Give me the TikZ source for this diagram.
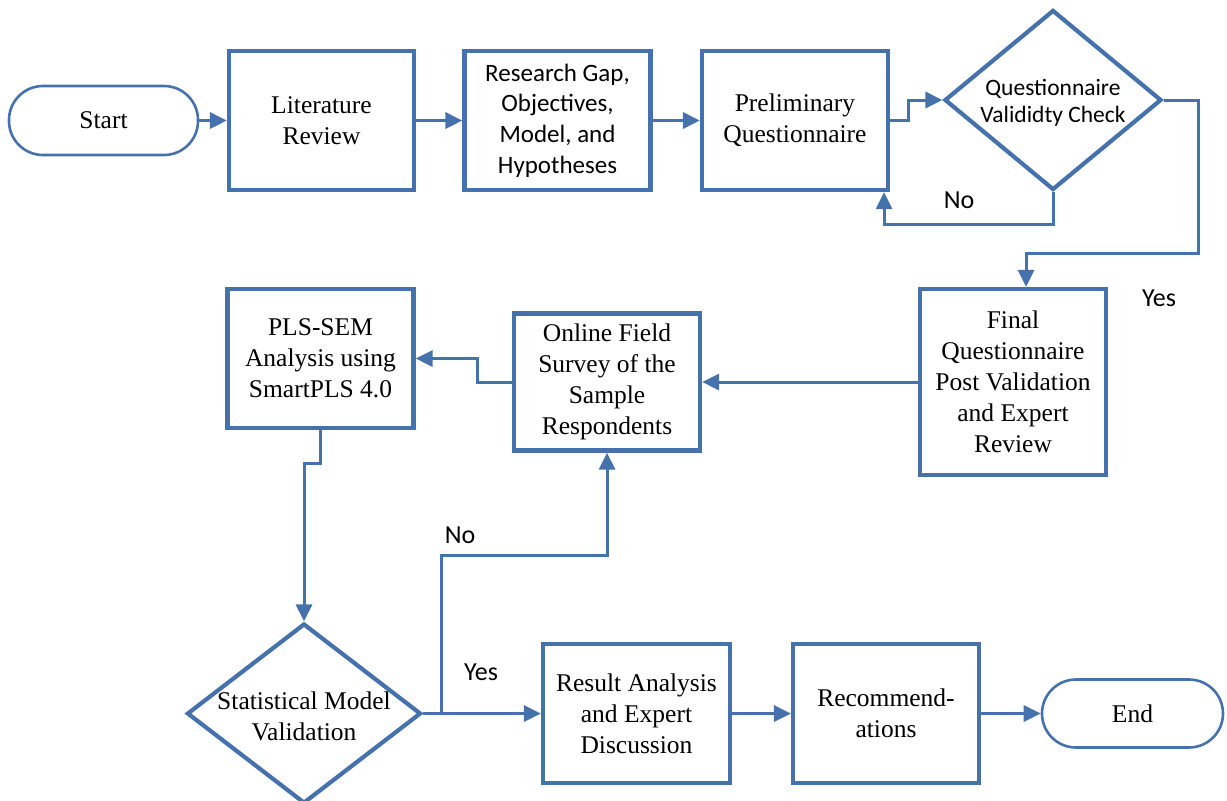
\documentclass[tikz,border=0pt]{standalone}
\usepackage{fontspec}
\setmainfont{Liberation Serif}
\newfontfamily\calibrifont{Carlito}
\usetikzlibrary{shapes.geometric,arrows.meta}
\definecolor{flowblue}{RGB}{69,114,172}
\newcommand{\boxfont}{\fontsize{25.5}{31}\selectfont}
\begin{document}
\begin{tikzpicture}[x=1pt,y=-1pt,
  box/.style={draw=flowblue,line width=4.2pt,minimum width=186pt,minimum height=139pt,inner sep=0pt,align=center,font=\boxfont},
  term/.style={draw=flowblue,line width=2.6pt,rounded corners=34pt,minimum width=189pt,minimum height=69pt,inner sep=0pt,font=\boxfont},
  dia/.style={draw=flowblue,line width=4.2pt,diamond,inner sep=0pt},
  link/.style={draw=flowblue,line width=3pt,-{Triangle[length=17pt,width=16pt]}},
  lbl/.style={font=\calibrifont\fontsize{26}{30}\selectfont}
]
\useasboundingbox (0,0) rectangle (1227,801);

% process steps
\node[term] (start) at (103.5,120.5) {Start};
\node[box,minimum width=185pt] (lit) at (321.5,120.5) {Literature\\Review};
\node[box,font=\calibrifont\fontsize{25}{30.7}\selectfont] (gap) at (557.5,120.5) {Research Gap,\\Objectives,\\Model, and\\Hypotheses};
\node[box] (pre) at (795,120.5) {Preliminary\\Questionnaire};
\node[dia,minimum width=217pt,minimum height=180pt] (qc) at (1053,100) {};
\node[font=\calibrifont\fontsize{23.5}{27}\selectfont,align=center] (qct) at (1053,103) {Questionnaire\\Valididty Check};
\node[box,minimum height=186pt] (final) at (1013,382) {Final\\Questionnaire\\Post Validation\\and Expert\\Review};
\node[box] (pls) at (320.5,358.5) {PLS-SEM\\Analysis using\\SmartPLS 4.0};
\node[box,minimum height=137pt] (online) at (607,382) {Online Field\\Survey of the\\Sample\\Respondents};
\node[dia,minimum width=234pt,minimum height=180pt] (stat) at (304,713.5) {};
\node[font=\boxfont,align=center] (statt) at (304,716) {Statistical Model\\Validation};
\node[box,minimum width=187pt] (res) at (636.5,713.5) {Result Analysis\\and Expert\\Discussion};
\node[box] (rec) at (886,713.5) {Recommend-\\ations};
\node[term,minimum width=181pt,minimum height=68pt] (end) at (1132.5,713.5) {End};

% connectors
\draw[link] (start) -- (lit);
\draw[link] (lit) -- (gap);
\draw[link] (gap) -- (pre);
\draw[link] (pre.east) -- ++(18,0) |- (qc.west);
\draw[link] (qc.south) -- ++(0,32) -| ([xshift=-6pt]pre.south east);
\node[lbl] (nolbl1) at (959,200) {No};
\coordinate (yb) at (1198,253);
\draw[link] (qc.east) -| (yb) -| ([xshift=13pt]final.north);
\node[lbl] (yeslbl1) at (1159,298) {Yes};
\draw[link] (final.west) -- (online.east |- final.west);
\draw[link] (online.west) -- ++(-34,0) |- (pls.east);
\draw[link] (pls.south) -- ++(0,33) -| (stat.north);
\draw[link] (stat.east) -- (res.west);
\coordinate (br) at (441,713.5);
\coordinate (nb) at (441,555);
\draw[link] (br) -- (nb) -| (online.south);
\node[lbl] (nolbl2) at (460,535) {No};
\node[lbl] (yeslbl2) at (481,672) {Yes};
\draw[link] (res) -- (rec);
\draw[link] (rec) -- (end);
\end{tikzpicture}
\end{document}
